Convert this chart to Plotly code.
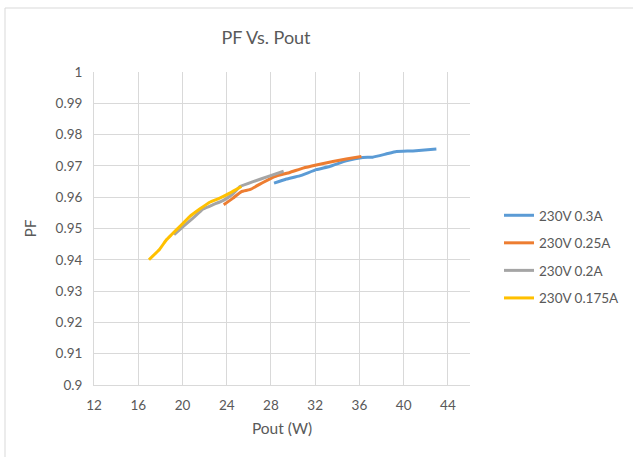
import plotly.graph_objects as go

# ---- data ----
names = ["230V 0.3A", "230V 0.25A", "230V 0.2A", "230V 0.175A"]
colors = ["#5B9BD5", "#ED7D31", "#A5A5A5", "#FFC000"]

x_03 = [28.28, 29.4, 30.6, 32.1, 33.3, 34.8, 36.3, 37.2, 38.4, 39.35, 40.84, 42.96]
y_03 = [0.9645, 0.9658, 0.9668, 0.9688, 0.9698, 0.9716, 0.9727, 0.9728, 0.9738, 0.9746, 0.9748, 0.9754]

x_025 = [23.73, 24.57, 25.33, 26.08, 27.28, 28.34, 29.7, 30.9, 32.1, 33.6, 34.8, 36.18]
y_025 = [0.9576, 0.9597, 0.9618, 0.9624, 0.9647, 0.9666, 0.9679, 0.9693, 0.9703, 0.9714, 0.9722, 0.9730]

x_02 = [19.24, 20.05, 20.95, 21.86, 22.76, 23.66, 24.57, 25.2, 26.4, 27.9, 29.15]
y_02 = [0.9480, 0.9506, 0.9533, 0.9562, 0.9576, 0.9589, 0.9611, 0.9634, 0.9650, 0.9668, 0.9683]

x_0175 = [16.97, 17.94, 18.55, 19.0, 19.75, 20.65, 21.56, 22.46, 23.37, 24.27, 25.33]
y_0175 = [0.9400, 0.9434, 0.9464, 0.9480, 0.9506, 0.9538, 0.9562, 0.9584, 0.9597, 0.9613, 0.9634]

xs = [x_03, x_025, x_02, x_0175]
ys = [y_03, y_025, y_02, y_0175]

x_ticks = [12, 16, 20, 24, 28, 32, 36, 40, 44]
y_ticks = [0.9, 0.91, 0.92, 0.93, 0.94, 0.95, 0.96, 0.97, 0.98, 0.99, 1]
y_tick_text = ["0.9", "0.91", "0.92", "0.93", "0.94", "0.95", "0.96", "0.97", "0.98", "0.99", "1"]

FONT = "Lato, 'Open Sans', sans-serif"
TXT = "#595959"
GRID = "#D9D9D9"

fig = go.Figure()
for i in range(4):
    fig.add_trace(go.Scatter(
        x=xs[i], y=ys[i], mode="lines", name=names[i],
        line=dict(color=colors[i], width=3, shape="spline", smoothing=0.3),
        legendgroup="g%d" % i,
    ))

W, H = 633, 457
L, R, T, B = 94, 163, 72, 72
pw, ph = W - L - R, H - T - B

def px_to_paper_x(p):
    return (p - L) / pw

def px_to_paper_y(p):
    return (H - B - p) / ph

fig.update_layout(
    width=W, height=H,
    margin=dict(l=L, r=R, t=T, b=B, autoexpand=False),
    paper_bgcolor="white", plot_bgcolor="white",
    font=dict(family=FONT, size=13, color=TXT),
    title=dict(text="PF Vs. Pout", x=266 / W, xanchor="center",
               y=1 - 38 / H, yanchor="middle",
               font=dict(family=FONT, size=18, color=TXT)),
    showlegend=True,
    legend=dict(x=px_to_paper_x(499), xanchor="left",
                y=px_to_paper_y(200), yanchor="top",
                traceorder="grouped", tracegroupgap=7,
                font=dict(family=FONT, size=13.5, color=TXT),
                bgcolor="rgba(0,0,0,0)", borderwidth=0),
    xaxis=dict(range=[12, 46], tickvals=x_ticks, showgrid=True, gridcolor=GRID,
               gridwidth=1, zeroline=False, showline=True, linecolor=GRID,
               linewidth=1, ticks="", ticklabelstandoff=8,
               tickfont=dict(family=FONT, size=13.5, color=TXT),
               title=dict(text="Pout (W)", standoff=10,
                          font=dict(family=FONT, size=15.5, color=TXT))),
    yaxis=dict(range=[0.9, 1.0], tickvals=y_ticks, ticktext=y_tick_text,
               showgrid=True, gridcolor=GRID, gridwidth=1, zeroline=False,
               showline=True, linecolor=GRID, linewidth=1, ticks="",
               ticklabelstandoff=8,
               tickfont=dict(family=FONT, size=13.5, color=TXT),
               title=dict(text="PF", standoff=15,
                          font=dict(family=FONT, size=15.5, color=TXT))),
    shapes=[dict(type="rect", xref="paper", yref="paper",
                 x0=px_to_paper_x(5), x1=px_to_paper_x(700),
                 y0=px_to_paper_y(520), y1=px_to_paper_y(8),
                 line=dict(color=GRID, width=1), fillcolor="rgba(0,0,0,0)",
                 layer="below")],
)

fig.write_html("out.html", config={"displayModeBar": False},
               post_script="document.body.style.margin='0';")
